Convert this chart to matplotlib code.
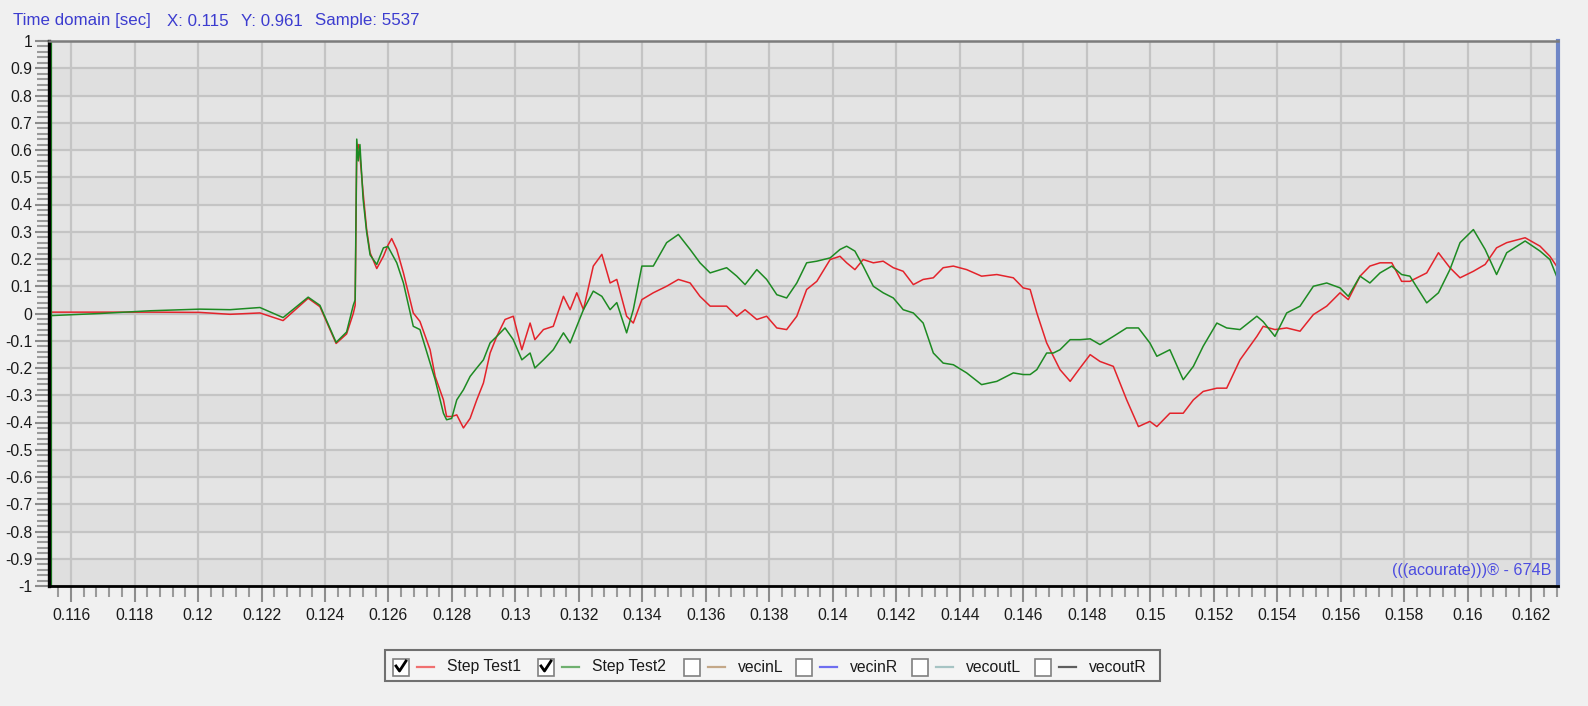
import matplotlib.pyplot as plt
import numpy as np
from matplotlib.ticker import MultipleLocator, FuncFormatter
from matplotlib.patches import Rectangle

plt.rcParams['font.family'] = ['Liberation Sans', 'DejaVu Sans']
plt.rcParams['axes.unicode_minus'] = False

#%% data (time in ms)
time_ms = [115.31, 116.91, 118.49, 120.06, 121.01, 121.95, 122.68, 123.47, 123.84, 124.35,
           124.68, 124.89, 124.95, 125.00, 125.05, 125.10, 125.20, 125.31, 125.42, 125.63,
           125.84, 125.98, 126.10, 126.26, 126.47, 126.78, 126.99, 127.31, 127.47, 127.73,
           127.83, 127.99, 128.15, 128.36, 128.57, 128.78, 128.99, 129.20, 129.41, 129.67,
           129.93, 130.20, 130.46, 130.61, 130.88, 131.19, 131.51, 131.72, 131.93, 132.14,
           132.45, 132.72, 132.98, 133.19, 133.50, 133.71, 133.98, 134.34, 134.76, 135.13,
           135.50, 135.81, 136.13, 136.65, 136.97, 137.23, 137.60, 137.91, 138.23, 138.54,
           138.86, 139.17, 139.49, 139.91, 140.22, 140.43, 140.69, 140.95, 141.27, 141.58,
           141.90, 142.21, 142.53, 142.84, 143.16, 143.47, 143.79, 144.21, 144.68, 145.16,
           145.68, 145.99, 146.21, 146.42, 146.73, 146.94, 147.15, 147.47, 147.78, 148.10,
           148.41, 148.83, 149.25, 149.62, 149.98, 150.20, 150.61, 151.03, 151.35, 151.66,
           152.09, 152.40, 152.82, 153.35, 153.55, 153.92, 154.29, 154.71, 155.13, 155.55,
           155.97, 156.23, 156.60, 156.91, 157.23, 157.60, 157.91, 158.17, 158.70, 159.07,
           159.43, 159.75, 160.17, 160.54, 160.90, 161.22, 161.80, 162.27, 162.58, 162.79]

step_test1 = [0.005, 0.005, 0.005, 0.004, -0.003, 0.002, -0.026, 0.056, 0.025, -0.110,
              -0.075, 0.000, 0.030, 0.600, 0.620, 0.580, 0.444, 0.310, 0.223, 0.165,
              0.210, 0.250, 0.275, 0.235, 0.149, 0.002, -0.029, -0.133, -0.231, -0.317,
              -0.378, -0.378, -0.372, -0.420, -0.385, -0.317, -0.255, -0.145, -0.084, -0.022,
              -0.010, -0.133, -0.035, -0.096, -0.059, -0.047, 0.063, 0.014, 0.076, 0.014,
              0.174, 0.217, 0.112, 0.125, -0.010, -0.035, 0.051, 0.076, 0.100, 0.125,
              0.112, 0.063, 0.027, 0.027, -0.010, 0.014, -0.022, -0.010, -0.053, -0.059,
              -0.010, 0.088, 0.118, 0.198, 0.210, 0.186, 0.161, 0.198, 0.186, 0.192,
              0.168, 0.155, 0.106, 0.125, 0.131, 0.168, 0.174, 0.161, 0.137, 0.143,
              0.131, 0.094, 0.088, 0.002, -0.108, -0.157, -0.206, -0.249, -0.200, -0.151,
              -0.176, -0.194, -0.317, -0.415, -0.396, -0.415, -0.366, -0.366, -0.317, -0.286,
              -0.274, -0.274, -0.170, -0.084, -0.047, -0.059, -0.053, -0.065, -0.004, 0.027,
              0.076, 0.051, 0.137, 0.174, 0.186, 0.186, 0.118, 0.118, 0.149, 0.223,
              0.168, 0.131, 0.155, 0.180, 0.241, 0.260, 0.278, 0.247, 0.210, 0.174]

step_test2 = [-0.008, 0.000, 0.010, 0.016, 0.014, 0.022, -0.015, 0.060, 0.030, -0.106,
              -0.068, 0.030, 0.050, 0.640, 0.560, 0.620, 0.420, 0.300, 0.215, 0.180,
              0.241, 0.246, 0.220, 0.186, 0.112, -0.047, -0.059, -0.182, -0.243, -0.366,
              -0.390, -0.385, -0.317, -0.280, -0.231, -0.200, -0.170, -0.108, -0.084, -0.053,
              -0.096, -0.170, -0.145, -0.200, -0.170, -0.133, -0.071, -0.108, -0.047, 0.014,
              0.082, 0.063, 0.014, 0.040, -0.071, 0.014, 0.174, 0.174, 0.260, 0.290,
              0.235, 0.186, 0.149, 0.168, 0.137, 0.106, 0.161, 0.125, 0.069, 0.057,
              0.112, 0.186, 0.192, 0.204, 0.235, 0.247, 0.229, 0.174, 0.100, 0.076,
              0.057, 0.014, 0.002, -0.035, -0.145, -0.182, -0.188, -0.218, -0.261, -0.249,
              -0.218, -0.224, -0.224, -0.206, -0.145, -0.145, -0.133, -0.096, -0.096, -0.093,
              -0.114, -0.084, -0.053, -0.053, -0.108, -0.157, -0.133, -0.243, -0.194, -0.120,
              -0.035, -0.053, -0.059, -0.010, -0.030, -0.084, 0.002, 0.027, 0.100, 0.112,
              0.094, 0.063, 0.137, 0.112, 0.149, 0.174, 0.143, 0.137, 0.039, 0.076,
              0.161, 0.260, 0.308, 0.235, 0.143, 0.223, 0.266, 0.229, 0.198, 0.137]

legend_names = ['Step Test1', 'Step Test2', 'vecinL', 'vecinR', 'vecoutL', 'vecoutR']
legend_colors = ['#f07070', '#6fb06f', '#c4a888', '#6e6ef0', '#a6c4c4', '#5e5e5e']
legend_checked = [True, True, False, False, False, False]

header_parts = ['Time domain [sec]', 'X: 0.115', 'Y: 0.961', 'Sample: 5537']

t = np.array(time_ms) / 1000.0

#%% fig
W, H = 1588, 706
fig = plt.figure(figsize=(W / 100, H / 100), dpi=100, facecolor='#f0f0f0')
ax = fig.add_axes([49 / W, 1 - 586 / H, (1558 - 49) / W, (586 - 41) / H])
ax.set_facecolor('#e4e4e4')

# alternating light bands like the app background
for k in range(20):
    if k % 2 == 0:
        ax.axhspan(-1 + k * 0.1, -1 + (k + 1) * 0.1, color='#dfdfdf', lw=0, zorder=0.1)

ax.plot(t, step_test1, c='#e3232b', lw=1.1, zorder=2)
ax.plot(t, step_test2, c='#1d8a22', lw=1.1, zorder=2.1)
# cursor line just inside the left axis
ax.axvline(0.115365, c='#1d8a22', lw=0.9, zorder=2)

ax.set_xlim([0.115307, 0.162835])
ax.set_ylim([-1, 1])

ax.xaxis.set_major_locator(MultipleLocator(0.002))
ax.xaxis.set_minor_locator(MultipleLocator(0.0004))
ax.yaxis.set_major_locator(MultipleLocator(0.1))
ax.yaxis.set_minor_locator(MultipleLocator(0.02))
ax.xaxis.set_major_formatter(FuncFormatter(lambda v, p: '%g' % round(v, 4)))
ax.yaxis.set_major_formatter(FuncFormatter(lambda v, p: '%g' % round(v, 2)))

ax.set_axisbelow(True)
ax.grid(True, which='major', color='#c4c4c4', lw=1.6)

ax.tick_params(axis='x', which='major', length=11.5, width=1.5, color='#8c8c8c',
               labelsize=11.3, labelcolor='#1a1a1a', pad=4)
ax.tick_params(axis='x', which='minor', length=8, width=1.5, color='#9a9a9a')
ax.tick_params(axis='y', which='major', length=10, width=1.5, color='#8c8c8c',
               labelsize=11.3, labelcolor='#1a1a1a', pad=2)
ax.tick_params(axis='y', which='minor', length=9, width=1.5, color='#9a9a9a')

ax.spines['left'].set_color('black')
ax.spines['left'].set_linewidth(2.4)
ax.spines['bottom'].set_color('black')
ax.spines['bottom'].set_linewidth(2.0)
ax.spines['top'].set_color('#7c7c7c')
ax.spines['top'].set_linewidth(1.8)
ax.spines['right'].set_color('#6f86c6')
ax.spines['right'].set_linewidth(3.0)

#%% overlay in pixel coords for header, watermark and legend
ov = fig.add_axes([0, 0, 1, 1], zorder=5)
ov.set_xlim(0, W)
ov.set_ylim(H, 0)
ov.axis('off')
ov.patch.set_alpha(0)

for x0, s in zip([13, 167, 241, 315], header_parts):
    ov.text(x0, 21, s, ha='left', va='center', color='#3c3ccf', fontsize=12.2)

ov.text(1552, 571, '(((acourate)))® - 674B', ha='right', va='center',
        color='#4d4de0', fontsize=11.6)

ov.add_patch(Rectangle((385, 650), 775, 31, facecolor='#f4f4f4', edgecolor='#707070', lw=1.5))
box_x = [393, 538, 684, 796, 912, 1035]
yc = 667
for bx, name, col, chk in zip(box_x, legend_names, legend_colors, legend_checked):
    ov.add_patch(Rectangle((bx, yc - 8.5), 16, 17, facecolor='white', edgecolor='#808080', lw=1.2))
    if chk:
        ov.plot([bx + 3, bx + 6.5, bx + 13], [yc - 1, yc + 4, yc - 6], c='black', lw=2.0)
    ov.plot([bx + 24, bx + 41], [yc, yc], c=col, lw=1.6)
    ov.text(bx + 54, yc, name, ha='left', va='center', fontsize=11.3, color='#1a1a1a')

plt.savefig('out.png', dpi=100, facecolor=fig.get_facecolor())
